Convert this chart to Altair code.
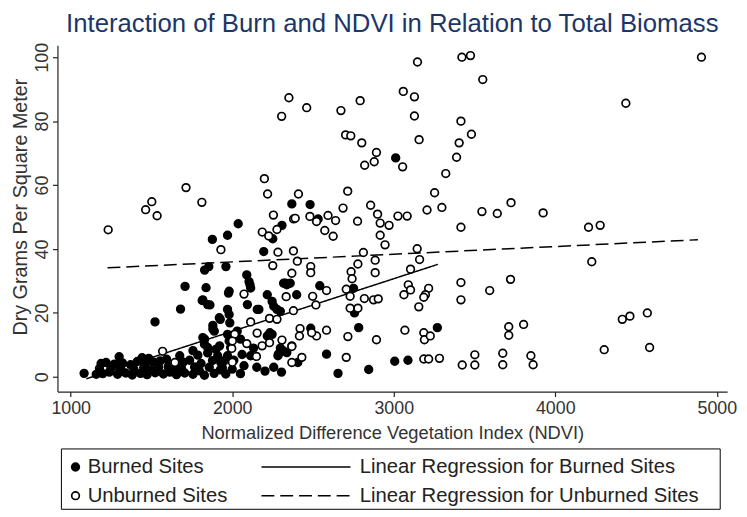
import altair as alt
import pandas as pd

TITLE = "Interaction of Burn and NDVI in Relation to Total Biomass"

burned_ndvi = [
    1083, 1522, 1680, 1708, 1829, 1855, 1877, 1971, 2037, 1961, 1838, 1814, 1862, 1977, 1971,
    2090, 2110, 2094, 2217, 2257, 2195, 2369, 2308, 2251, 2330, 2165, 1926, 1880, 1829, 3012,
    2482, 2532, 2318, 2359, 2399, 2542, 2751, 2757, 2298, 2783, 3270, 2486, 2318, 2338, 2584,
    2655, 2845, 3006, 3088, 2104, 2114, 1981, 1818, 1848, 1981, 1920, 2155, 2247, 2277, 2338,
    1880, 1818, 1828, 1848, 1971, 1981, 1990, 1971, 2031, 1910, 1929, 2217, 2247, 2286, 2257,
    2369, 1922, 2051, 1889, 1985, 2233, 2298, 2114, 2283, 2073, 1926,
    1158, 1178, 1188, 1198, 1219, 1239, 1249, 1270, 1290, 1300, 1310, 1320, 1341, 1371, 1381,
    1391, 1412, 1432, 1442, 1452, 1462, 1473, 1483, 1493, 1513, 1523, 1544, 1554, 1574, 1594,
    1604, 1614, 1635, 1645, 1655, 1675, 1685, 1696, 1706, 1736, 1757, 1767, 1787, 1797, 1807,
    1828, 1848, 1858, 1878, 1888, 1899, 1939, 1949, 1960, 2000, 2010, 2051, 2152, 2203, 2305,
    2406, 2061, 2132, 1757,
]
burned_biomass = [
    1.1, 17.2, 21.2, 28.3, 33.4, 34.5, 43.0, 44.3, 47.9, 34.5, 27.9, 23.9, 22.5, 26.2, 21.1,
    31.9, 28.8, 22.6, 25.7, 22.1, 39.2, 54.1, 47.4, 43.2, 29.3, 21.1, 18.0, 16.1, 11.8, 68.5,
    53.9, 49.4, 29.3, 29.3, 25.7, 28.5, 27.7, 20.0, 20.5, 15.4, 15.4, 15.2, 8.1, 7.6, 7.1,
    1.1, 2.3, 4.9, 5.2, 29.8, 27.8, 26.8, 24.1, 22.6, 19.5, 18.5, 21.1, 23.6, 21.1, 28.8,
    15.0, 12.3, 10.2, 9.2, 13.3, 11.2, 9.2, 6.6, 14.3, 6.6, 4.5, 12.8, 13.3, 7.1, 3.0,
    9.7, 9.7, 11.8, 14.3, 16.9, 13.8, 9.0, 6.6, 6.6, 3.5, 2.2,
    0.8, 2.6, 4.2, 1.0, 4.5, 1.5, 2.8, 4.0, 0.8, 6.3, 2.5, 4.4, 1.2, 3.8, 0.6,
    2.4, 4.8, 1.1, 6.0, 2.9, 4.1, 0.7, 5.8, 2.2, 4.6, 1.3, 3.0, 5.0, 0.9, 5.5,
    3.2, 1.5, 2.4, 4.3, 0.7, 6.6, 2.8, 4.6, 1.2, 5.2, 0.8, 3.1, 6.8, 1.9, 4.2,
    0.5, 7.5, 3.0, 5.1, 1.1, 8.6, 2.8, 5.0, 0.9, 2.4, 5.2, 1.0, 3.0, 1.8, 1.5,
    4.5, 7.0, 9.0, 8.2,
]

unburned_ndvi = [
    1232, 1464, 1502, 1535, 1714, 1812, 2199, 2219, 2255, 2186, 2226, 2277, 2380, 1930, 2283,
    2379, 2251, 2369, 2073, 2334, 2379, 2114, 2231, 2154, 2090, 2150, 2231, 2308, 2369, 2369,
    2015, 1997, 1569, 1645, 2351, 2306, 2461, 2673, 2792, 2702, 2734, 2802, 2893, 2879, 2820,
    3055, 3059, 3128, 3147, 3128, 3157, 3422, 3475, 3551, 3416, 3481, 3405, 3389, 3322, 3253,
    3206, 3298, 3546, 3641, 3726, 3416, 2715, 2686, 2857, 2900, 2916, 2971, 3026, 3083, 2776,
    2593, 2640, 2481, 2522, 2410, 2390, 2573, 2625, 2916, 2946, 2403, 2486, 2486, 2812, 2778,
    2885, 2885, 3145, 3160, 3104, 2736, 2742, 2706, 2730, 2730, 2778, 2818, 2875, 2904, 2584,
    2498, 2518, 3090, 3104, 3063, 3216, 3196, 3186, 3155, 3416, 3416, 3594, 3723, 3069, 3186,
    3190, 3226, 2893, 2716, 2706, 2584, 2522, 2492, 2420, 2416, 2431, 3186, 3216, 3283, 3424,
    3502, 3502, 3675, 3675, 3712, 3712, 3804, 4905, 4437, 3925, 4206, 4278, 4226, 3849, 3863,
    4303, 4415, 4462, 4570, 4584, 2185, 2001, 2001, 2277,
]
unburned_biomass = [
    46.0, 52.3, 54.8, 50.4, 59.2, 54.6, 62.0, 57.2, 50.6, 45.3, 44.1, 46.1, 49.4, 39.8, 39.0,
    39.4, 34.8, 32.4, 25.9, 25.1, 20.7, 17.2, 18.3, 13.7, 10.4, 6.4, 10.7, 11.5, 9.5, 4.5,
    13.3, 8.9, 8.0, 4.5, 87.3, 81.5, 84.2, 83.3, 86.4, 75.7, 75.4, 73.2, 70.2, 67.3, 66.2,
    65.7, 89.3, 87.6, 98.5, 81.6, 74.2, 100.0, 100.5, 93.0, 80.0, 75.9, 73.2, 68.7, 63.6, 57.6,
    52.2, 53.0, 51.7, 51.1, 54.5, 46.8, 58.1, 52.8, 53.7, 50.9, 48.1, 47.4, 50.3, 50.3, 48.7,
    50.5, 48.9, 50.2, 48.6, 57.2, 49.6, 45.8, 44.0, 44.3, 41.3, 36.2, 34.5, 32.6, 38.9, 35.3,
    36.5, 32.6, 40.1, 36.7, 33.7, 32.9, 30.7, 27.4, 25.2, 21.5, 21.5, 24.5, 24.1, 24.4, 27.0,
    25.2, 22.5, 28.8, 27.2, 25.7, 27.7, 25.7, 24.9, 21.9, 29.5, 24.1, 27.0, 30.5, 14.6, 13.8,
    11.6, 12.8, 11.6, 12.6, 6.1, 14.6, 12.8, 13.8, 15.1, 12.8, 6.1, 5.6, 5.6, 5.8, 3.7,
    3.7, 6.9, 3.8, 7.4, 13.0, 15.7, 16.4, 100.0, 85.6, 51.3, 46.8, 47.4, 36.0, 6.6, 3.8,
    8.5, 18.0, 19.0, 20.0, 9.2, 9.7, 11.2, 4.6, 18.0,
]

# Fitted regression lines (end points)
fit_burned_ndvi = [1097, 3273]
fit_burned_biomass = [-0.6, 35.2]
fit_unburned_ndvi = [1228, 4883]
fit_unburned_biomass = [34.1, 42.9]

site_labels = ["Burned Sites", "Unburned Sites"]
fit_labels = ["Linear Regression for Burned Sites", "Linear Regression for Unburned Sites"]
x_ticks = [1000, 2000, 3000, 4000, 5000]
y_ticks = [0, 20, 40, 60, 80, 100]

points = pd.concat([
    pd.DataFrame({"ndvi": burned_ndvi, "biomass": burned_biomass, "site": site_labels[0]}),
    pd.DataFrame({"ndvi": unburned_ndvi, "biomass": unburned_biomass, "site": site_labels[1]}),
], ignore_index=True)
points["order"] = range(len(points))

fits = pd.concat([
    pd.DataFrame({"ndvi": fit_burned_ndvi, "biomass": fit_burned_biomass, "fit": fit_labels[0]}),
    pd.DataFrame({"ndvi": fit_unburned_ndvi, "biomass": fit_unburned_biomass, "fit": fit_labels[1]}),
], ignore_index=True)

FONT = "Liberation Sans"
TXT = "#333333"

x_enc = alt.X("ndvi:Q", scale=alt.Scale(domain=[918, 5064], nice=False, zero=False),
              axis=alt.Axis(values=x_ticks, title="Normalized Difference Vegetation Index (NDVI)",
                            format="d", labelPadding=3, titlePadding=6))
y_enc = alt.Y("biomass:Q", scale=alt.Scale(domain=[-4.6, 103.7], nice=False, zero=False),
              axis=alt.Axis(values=y_ticks, title="Dry Grams Per Square Meter",
                            labelAngle=-90, labelAlign="center", labelBaseline="bottom",
                            labelPadding=1, titlePadding=3, titleFontSize=20, titleY=163))

pts = alt.Chart(points).mark_point(shape="circle", filled=True, size=60, stroke="black",
                                   strokeWidth=1.7, opacity=1).encode(
    x=x_enc, y=y_enc,
    fill=alt.Fill("site:N", scale=alt.Scale(domain=site_labels, range=["black", "white"]),
                  legend=alt.Legend(title=None, orient="none", legendX=8, legendY=416,
                                    symbolStrokeColor="black", symbolStrokeWidth=1.7,
                                    symbolSize=60, symbolType="circle", labelOffset=2,
                                    rowPadding=8, padding=0, labelLimit=400)),
    order="order:Q",
)

lines = alt.Chart(fits).mark_line(color="black", strokeWidth=1.5).encode(
    x="ndvi:Q", y="biomass:Q",
    strokeDash=alt.StrokeDash("fit:N", scale=alt.Scale(domain=fit_labels, range=[[1, 0], [13, 6]]),
                              legend=alt.Legend(title=None, orient="none", legendX=241, legendY=416,
                                                symbolType="M-5,0H5", symbolSize=324,
                                                symbolStrokeColor="black", symbolStrokeWidth=1.5,
                                                labelOffset=44, rowPadding=8, padding=0,
                                                labelLimit=500)),
)

frame = alt.Chart(alt.Data(values=[{"k": 1}])).mark_rect(fill="white", fillOpacity=0,
                                                       stroke="black", strokeWidth=1).encode(
    x=alt.value(4), x2=alt.value(670), y=alt.value(408), y2=alt.value(469))

chart = alt.layer(lines, pts, frame).properties(
    width=677, height=350,
    title=alt.TitleParams(TITLE, font=FONT, fontSize=26, fontWeight="normal", color="#1c3668",
                          anchor="middle", offset=5),
    autosize=alt.AutoSizeParams(type="none"),
    padding={"left": 50, "top": 35, "right": 12, "bottom": 122},
).configure_view(stroke=None).configure_axis(
    grid=False, domainColor="#222222", tickColor="#222222", domainWidth=1.2, tickWidth=1.2,
    tickSize=5, labelFont=FONT, titleFont=FONT, labelFontSize=18, titleFontSize=18.5,
    labelColor=TXT, titleColor=TXT, titleFontWeight="normal",
).configure_legend(labelFont=FONT, labelFontSize=20.5, labelColor="#222222")

chart.save("out.html", embed_options={"renderer": "svg", "actions": False})
